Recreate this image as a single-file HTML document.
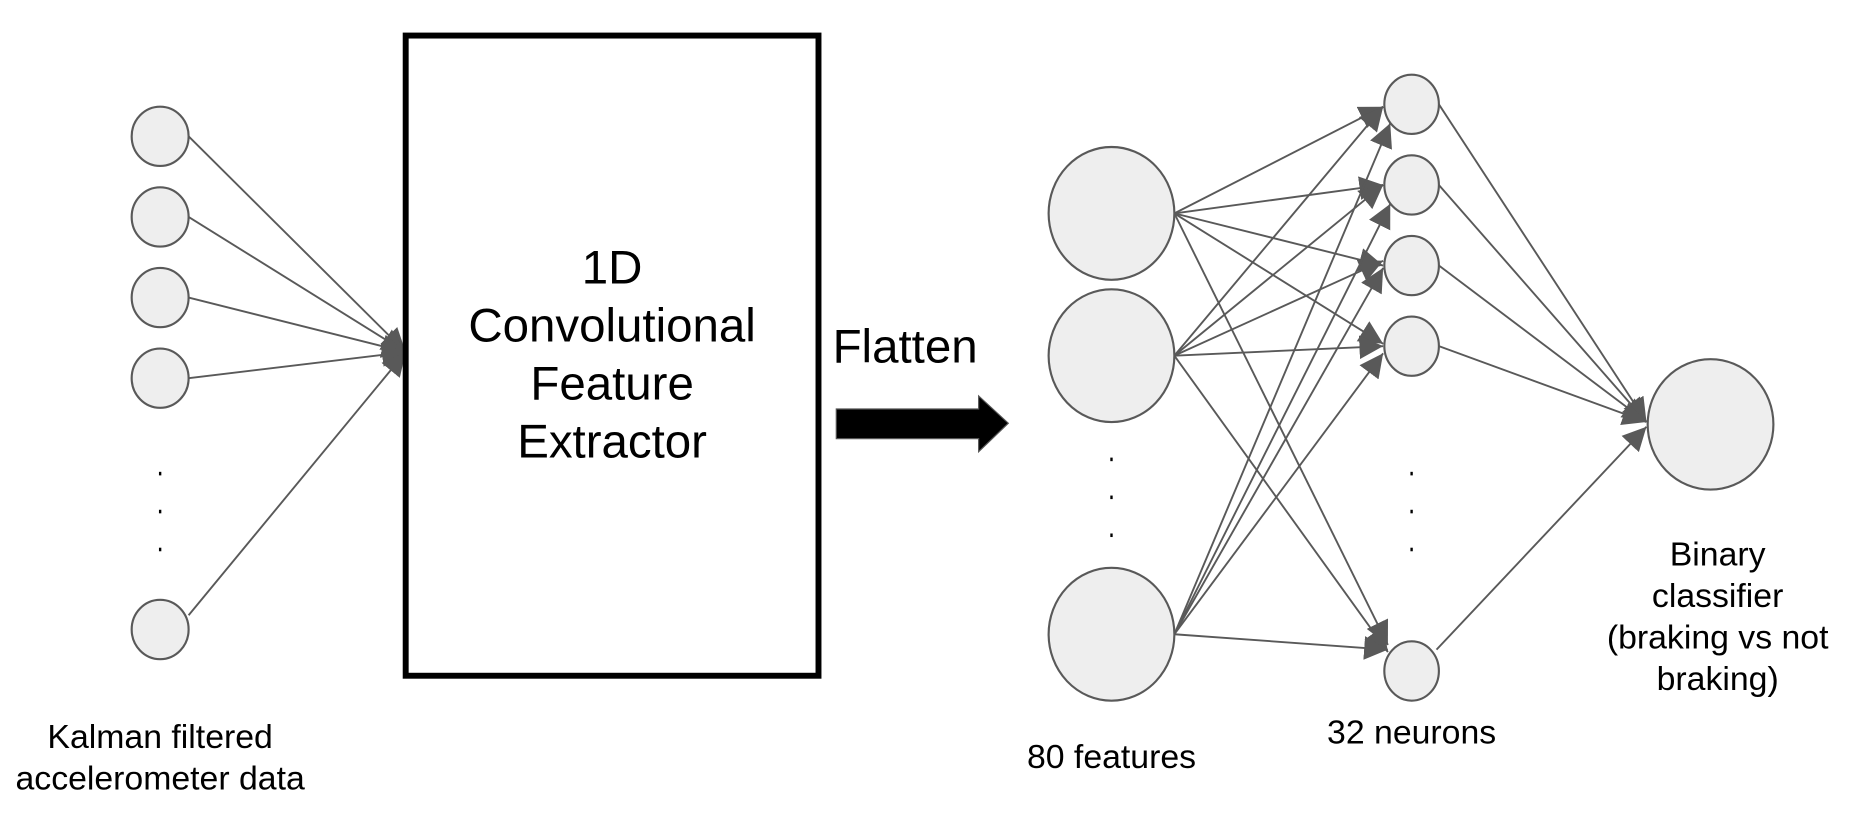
<!DOCTYPE html>
<html><head><meta charset="utf-8"><style>
html,body{margin:0;padding:0;background:#fff;}
svg{display:block;}
text{font-family:"Liberation Sans",Arial,sans-serif;fill:#000;}
</style></head><body>
<svg width="1860" height="818" viewBox="0 0 1568 690" preserveAspectRatio="none" xmlns="http://www.w3.org/2000/svg">
<defs>
<marker id="b" viewBox="0 0 10 10" refX="10" refY="5" markerWidth="20" markerHeight="20" markerUnits="userSpaceOnUse" orient="auto">
<path d="M0,0 L10,5 L0,10 z" fill="#595959"/></marker>
</defs>
<g stroke="#595959" stroke-width="1.6" fill="none" marker-end="url(#b)">
<line x1="159" y1="115" x2="342" y2="297"/>
<line x1="159" y1="183" x2="342" y2="297"/>
<line x1="159" y1="251" x2="342" y2="297"/>
<line x1="159" y1="319" x2="342" y2="297"/>
<line x1="159" y1="519" x2="342" y2="297"/>
<line x1="990" y1="180" x2="1166" y2="90"/>
<line x1="990" y1="180" x2="1166" y2="156"/>
<line x1="990" y1="180" x2="1166" y2="224"/>
<line x1="990" y1="180" x2="1166" y2="290"/>
<line x1="990" y1="180" x2="1170" y2="544"/>
<line x1="990" y1="300" x2="1166" y2="90"/>
<line x1="990" y1="300" x2="1166" y2="156"/>
<line x1="990" y1="300" x2="1166" y2="220"/>
<line x1="990" y1="300" x2="1166" y2="292"/>
<line x1="990" y1="300" x2="1170" y2="550"/>
<line x1="990" y1="535" x2="1172" y2="104"/>
<line x1="990" y1="535" x2="1172" y2="172"/>
<line x1="990" y1="535" x2="1166" y2="226"/>
<line x1="990" y1="535" x2="1166" y2="298"/>
<line x1="990" y1="535" x2="1170" y2="548"/>
<line x1="1213" y1="88" x2="1388" y2="356"/>
<line x1="1213" y1="156" x2="1388" y2="356"/>
<line x1="1213" y1="224" x2="1388" y2="356"/>
<line x1="1213" y1="292" x2="1388" y2="356"/>
<line x1="1211" y1="548" x2="1388" y2="360"/>
</g>
<g fill="#eeeeee" stroke="#595959" stroke-width="1.8">
<ellipse cx="135" cy="115" rx="24" ry="25"/>
<ellipse cx="135" cy="183" rx="24" ry="25"/>
<ellipse cx="135" cy="251" rx="24" ry="25"/>
<ellipse cx="135" cy="319" rx="24" ry="25"/>
<ellipse cx="135" cy="531" rx="24" ry="25"/>
<ellipse cx="937" cy="180" rx="53" ry="56"/>
<ellipse cx="937" cy="300" rx="53" ry="56"/>
<ellipse cx="937" cy="535" rx="53" ry="56"/>
<ellipse cx="1190" cy="88" rx="23" ry="25"/>
<ellipse cx="1190" cy="156" rx="23" ry="25"/>
<ellipse cx="1190" cy="224" rx="23" ry="25"/>
<ellipse cx="1190" cy="292" rx="23" ry="25"/>
<ellipse cx="1190" cy="566" rx="23" ry="25"/>
<ellipse cx="1442" cy="358" rx="53" ry="55"/>
</g>
<g fill="#000">
<rect x="134" y="398" width="2" height="3"/><rect x="134" y="430" width="2" height="3"/><rect x="134" y="462" width="2" height="3"/>
<rect x="936" y="386" width="2" height="3"/><rect x="936" y="418" width="2" height="3"/><rect x="936" y="450" width="2" height="3"/>
<rect x="1189" y="398" width="2" height="3"/><rect x="1189" y="430" width="2" height="3"/><rect x="1189" y="462" width="2" height="3"/>
</g>
<rect x="342" y="30" width="348" height="540" fill="none" stroke="#000" stroke-width="5"/>
<g font-size="40" text-anchor="middle">
<text x="516" y="239">1D</text>
<text x="516" y="288">Convolutional</text>
<text x="516" y="337">Feature</text>
<text x="516" y="386">Extractor</text>
<text x="763" y="306">Flatten</text>
</g>
<path d="M705,345 L825,345 L825,334 L850,357 L825,381 L825,370 L705,370 z" fill="#000" stroke="#555" stroke-width="1"/>
<g font-size="28.5" text-anchor="middle">
<text x="135" y="631">Kalman filtered</text>
<text x="135" y="666">accelerometer data</text>
<text x="937" y="648">80 features</text>
<text x="1190" y="627">32 neurons</text>
<text x="1448" y="477">Binary</text>
<text x="1448" y="512">classifier</text>
<text x="1448" y="547">(braking vs not</text>
<text x="1448" y="582">braking)</text>
</g>
</svg>
</body></html>
